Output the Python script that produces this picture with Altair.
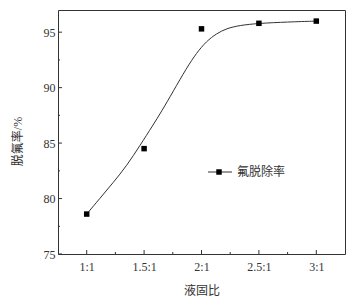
import altair as alt
import pandas as pd

# measured points
ratios = [1.0, 1.5, 2.0, 2.5, 3.0]
ratio_labels = ["1:1", "1.5:1", "2:1", "2.5:1", "3:1"]
removal = [78.6, 84.5, 95.3, 95.8, 96.0]

# fitted curve
curve_x = [1.0, 1.116, 1.231, 1.348, 1.463, 1.579, 1.652, 1.753, 1.870, 1.957,
           2.043, 2.130, 2.217, 2.333, 2.5, 2.75, 3.0]
curve_y = [78.6, 80.03, 81.44, 82.95, 84.76, 86.65, 87.85, 89.66, 91.77, 93.13,
           94.18, 94.87, 95.33, 95.62, 95.80, 95.92, 96.0]

x_major = ratios
x_minor = [1.25, 1.75, 2.25, 2.75]
y_major = [75, 80, 85, 90, 95]
y_minor = [77.5, 82.5, 87.5, 92.5]

legend_label = "氟脱除率"
x_title = "液固比"
y_title = "脱氟率/%"

W, H = 287, 244
FONT = "Liberation Serif, Noto Sans CJK SC"
INK = "#333333"

def key(r):
    return str(int(r)) if r == int(r) else str(r)

label_expr = "{" + ",".join(f"'{key(r)}':'{lab}'" for r, lab in zip(ratios, ratio_labels)) + "}[''+datum.value]"

xs = alt.Scale(domain=[0.75, 3.25], nice=False, zero=False)
ys = alt.Scale(domain=[75, 97], nice=False, zero=False)

pts = pd.DataFrame({"r": ratios, "v": removal})
curve = pd.DataFrame({"r": curve_x, "v": curve_y})

x_axis = alt.Axis(values=x_major, labelExpr=label_expr, title=x_title, grid=False,
                  domain=False, ticks=False, labelPadding=7, titlePadding=13,
                  labelFont=FONT, titleFont=FONT, labelFontSize=12, titleFontSize=12,
                  labelColor=INK, titleColor=INK, titleFontWeight="normal")
y_axis = alt.Axis(values=y_major, title=y_title, grid=False, domain=False, ticks=False,
                  labelPadding=3, labelFont=FONT, titleFont=FONT, labelFontSize=12,
                  titleFontSize=12, labelColor=INK, titleColor=INK, titleFontWeight="normal",
                  titleAngle=-90, titleX=-41, titleY=131, titleAlign="center",
                  titleBaseline="middle")

line = alt.Chart(curve).mark_line(color=INK, strokeWidth=1, interpolate="basis").encode(
    x=alt.X("r:Q", scale=xs, axis=x_axis),
    y=alt.Y("v:Q", scale=ys, axis=y_axis),
)

points = alt.Chart(pts).mark_point(shape="square", filled=True, color="black", size=30, opacity=1).encode(
    x=alt.X("r:Q", scale=xs),
    y=alt.Y("v:Q", scale=ys),
)

def xticks(vals, length):
    return alt.Chart(pd.DataFrame({"t": vals})).mark_rule(color=INK, strokeWidth=1).encode(
        x=alt.X("t:Q", scale=xs), y=alt.value(H), y2=alt.value(H - length))

def yticks(vals, length):
    return alt.Chart(pd.DataFrame({"t": vals})).mark_rule(color=INK, strokeWidth=1).encode(
        y=alt.Y("t:Q", scale=ys), x=alt.value(0), x2=alt.value(length))

leg = pd.DataFrame({"label": [legend_label]})
leg_line = alt.Chart(leg).mark_rule(color=INK, strokeWidth=1).encode(
    x=alt.value(150), x2=alt.value(174), y=alt.value(162))
leg_pt = alt.Chart(leg).mark_point(shape="square", filled=True, color="black", size=30, opacity=1).encode(
    x=alt.value(161), y=alt.value(162))
leg_txt = alt.Chart(leg).mark_text(align="left", baseline="middle", font=FONT, fontSize=12,
                                   color=INK).encode(
    x=alt.value(179), y=alt.value(162), text="label:N")

chart = alt.layer(
    line, points,
    xticks(x_major, 4), xticks(x_minor, 2),
    yticks(y_major, 4), yticks(y_minor, 2),
    leg_line, leg_pt, leg_txt,
).properties(
    width=W, height=H,
    autosize=alt.AutoSizeParams(type="none"),
    padding={"left": 58, "top": 10, "right": 12, "bottom": 52},
    background="white",
).configure_view(stroke=INK, strokeWidth=1)

chart.save("out.html", embed_options={"renderer": "svg", "actions": False})
